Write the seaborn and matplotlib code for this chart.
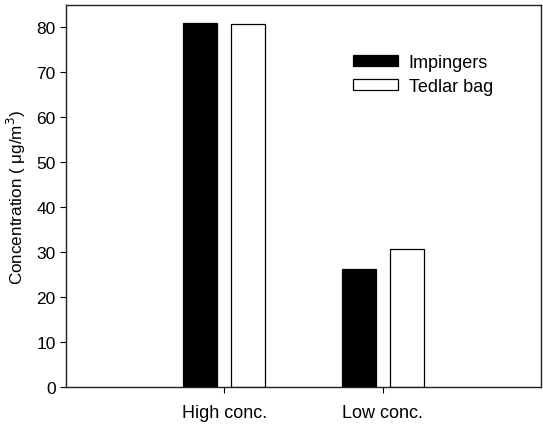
import matplotlib
matplotlib.use("Agg")
import matplotlib.pyplot as plt
import seaborn as sns
import pandas as pd

categories = ["High conc.", "Low conc."]
series_names = ["Impingers", "Tedlar bag"]
impingers = [81.0, 26.3]
tedlar = [80.8, 30.8]
y_ticks = [0, 10, 20, 30, 40, 50, 60, 70, 80]

df = pd.DataFrame({
    "cat": categories * 2,
    "series": [series_names[0]] * 2 + [series_names[1]] * 2,
    "value": impingers + tedlar,
})

sns.set_theme(style="ticks")
plt.rcParams["font.family"] = ["Liberation Sans", "DejaVu Sans"]
plt.rcParams["text.color"] = "black"
plt.rcParams["axes.labelcolor"] = "black"

fig = plt.figure(figsize=(5.43, 4.27), dpi=100)
ax = fig.add_axes([66 / 543, 1 - 388 / 427, 475 / 543, 382 / 427])

sns.barplot(data=df, x="cat", y="value", hue="series", order=categories,
            hue_order=series_names, palette=["black", "white"],
            width=0.606, gap=0.29, edgecolor="black", linewidth=0.9,
            ax=ax, errorbar=None)

ax.set_xlim(-1, 2)
ax.set_ylim(0, 85)
ax.set_yticks(y_ticks)
ax.set_xlabel("")
ax.set_ylabel("Concentration ( \u03bcg/m$^3$)", fontsize=12.3, labelpad=6, color="black")
ax.tick_params(axis="both", labelsize=12.5, length=4, width=0.8, direction="out",
               colors="black")
ax.tick_params(axis="x", pad=8, labelsize=13)
for s in ax.spines.values():
    s.set_color("#222222")
    s.set_linewidth(1.0)

leg = ax.legend(loc="upper left", bbox_to_anchor=(0.585, 0.896), frameon=False,
                fontsize=13, handlelength=2.5, handleheight=0.55, borderpad=0,
                handletextpad=0.6, labelspacing=0.4, labelcolor="black")

fig.savefig("out.png", dpi=100)
